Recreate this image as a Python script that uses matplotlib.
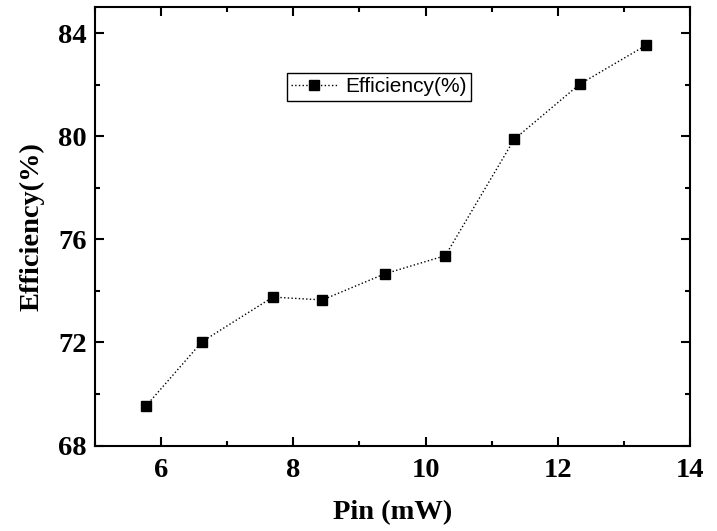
import matplotlib
matplotlib.use("Agg")
import matplotlib.pyplot as plt
from matplotlib.ticker import MultipleLocator

pin_mw = [5.77, 6.62, 7.69, 8.44, 9.38, 10.30, 11.34, 12.33, 13.34]
efficiency = [69.53, 72.03, 73.76, 73.65, 74.66, 75.37, 79.88, 82.02, 83.54]


def plot_efficiency() -> None:
    fig = plt.figure(figsize=(7.17, 5.31), dpi=100)
    ax = fig.add_axes([0.1325, 0.161, 0.8298, 0.8249])

    ax.plot(pin_mw, efficiency, linestyle=":", linewidth=1.0, color="black",
            marker="s", markersize=7.2, markerfacecolor="black",
            markeredgecolor="black", label="Efficiency(%)")

    ax.set_xlim(5, 14)
    ax.set_ylim(68, 85)
    ax.xaxis.set_major_locator(MultipleLocator(2))
    ax.xaxis.set_minor_locator(MultipleLocator(1))
    ax.yaxis.set_major_locator(MultipleLocator(4))
    ax.yaxis.set_minor_locator(MultipleLocator(2))

    for s in ax.spines.values():
        s.set_linewidth(1.5)
    ax.tick_params(which="both", direction="in", top=True, right=True, width=1.5)
    ax.tick_params(which="major", length=6.5)
    ax.tick_params(which="minor", length=3.5)

    serif = {"family": "Liberation Serif", "weight": "bold", "size": 20.5}
    for lbl in ax.get_xticklabels() + ax.get_yticklabels():
        lbl.set_fontproperties(serif)
    ax.tick_params(axis="x", pad=9)
    ax.tick_params(axis="y", pad=6)

    ax.set_xlabel("Pin (mW)", fontdict=serif, labelpad=12)
    ax.set_ylabel("Efficiency(%)", fontdict=serif, labelpad=10)

    leg = ax.legend(loc="upper left", bbox_to_anchor=(0.323, 0.85),
                    prop={"family": "Liberation Sans", "size": 15},
                    fancybox=False, edgecolor="black", framealpha=1,
                    handlelength=2.2, handletextpad=0.4, borderpad=0.2,
                    borderaxespad=0)
    leg.get_frame().set_linewidth(1.0)

    fig.savefig("out.png", dpi=100)
    plt.close(fig)


if __name__ == "__main__":
    plot_efficiency()
